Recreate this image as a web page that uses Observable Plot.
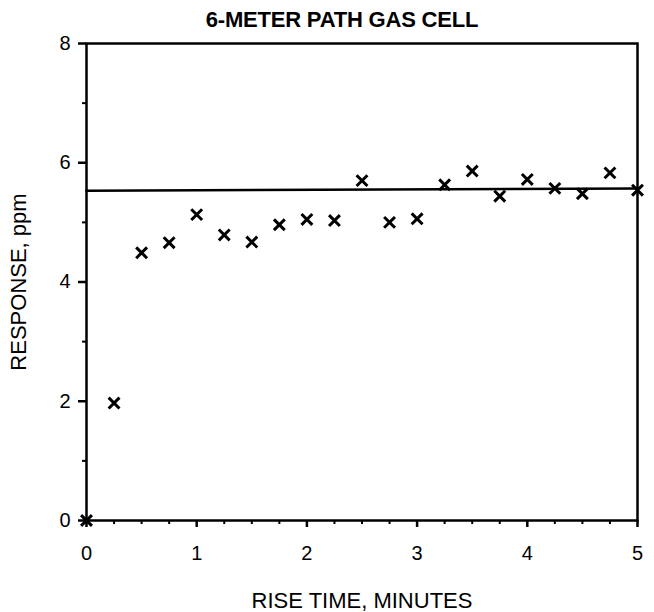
<!DOCTYPE html>
<html>
<head>
<meta charset="utf-8">
<script src="https://cdn.jsdelivr.net/npm/d3@7"></script>
<script src="https://cdn.jsdelivr.net/npm/@observablehq/plot@0.6"></script>
<style>
  html, body { margin: 0; padding: 0; background: #fff; }
  #wrap { position: relative; width: 654px; height: 612px; }
  #title { position: absolute; left: 0; top: 7px; width: 684px; text-align: center;
           font: bold 22px "Liberation Sans", Arial, sans-serif; color: #000; letter-spacing: -0.2px; }
</style>
</head>
<body>
<div id="wrap"><div id="title">6-METER PATH GAS CELL</div></div>
<script>
// Rise time (minutes) and measured response (ppm)
const riseTime = [0, 0.25, 0.5, 0.75, 1.0, 1.25, 1.5, 1.75, 2.0, 2.25, 2.5, 2.75, 3.0, 3.25, 3.5, 3.75, 4.0, 4.25, 4.5, 4.75, 5.0];
const response = [0, 1.97, 4.49, 4.66, 5.13, 4.79, 4.67, 4.96, 5.05, 5.03, 5.70, 5.00, 5.06, 5.63, 5.86, 5.44, 5.72, 5.57, 5.48, 5.83, 5.54];
// Reference (fitted) line
const lineTime = [0, 5];
const lineResponse = [5.53, 5.57];
// Ticks
const xMajorTicks = [0, 1, 2, 3, 4, 5];
const xMinorTicks = [0.25, 0.5, 0.75, 1.25, 1.5, 1.75, 2.25, 2.5, 2.75, 3.25, 3.5, 3.75, 4.25, 4.5, 4.75];
const yMajorTicks = [0, 2, 4, 6, 8];
const yMinorTicks = [1, 3, 5, 7];

const points = riseTime.map((t, i) => ({t, r: response[i]}));
const fit = lineTime.map((t, i) => ({t, r: lineResponse[i]}));

const font = '"Liberation Sans", Arial, sans-serif';
const fmt = d => String(d);

const chart = Plot.plot({
  width: 654,
  height: 612,
  marginLeft: 86,
  marginRight: 17,
  marginTop: 43,
  marginBottom: 92,
  style: {fontFamily: font, fontSize: "20px", background: "white", color: "black", overflow: "visible"},
  x: {domain: [0, 5], label: null},
  y: {domain: [0, 8], label: null},
  marks: [
    Plot.axisX({ticks: xMinorTicks, tickSize: 4, tickFormat: () => "", strokeWidth: 2, label: null}),
    Plot.axisX({ticks: xMajorTicks, tickSize: 7, tickPadding: 18, strokeWidth: 2.5, tickFormat: fmt,
      fontSize: 20, label: null}),
    Plot.axisX({ticks: [], label: "RISE TIME, MINUTES", labelAnchor: "center", labelArrow: "none",
      labelOffset: 87, fontSize: 22}),
    Plot.axisY({ticks: yMinorTicks, tickSize: 4, tickFormat: () => "", strokeWidth: 2, label: null}),
    Plot.axisY({ticks: yMajorTicks, tickSize: 8, tickPadding: 8, strokeWidth: 2.5, tickFormat: fmt,
      fontSize: 20, label: null}),
    Plot.axisY({ticks: [], label: "RESPONSE, ppm", labelAnchor: "center", labelArrow: "none",
      labelOffset: 76, fontSize: 22}),
    Plot.frame({stroke: "black", strokeWidth: 2.5}),
    Plot.line(fit, {x: "t", y: "r", stroke: "black", strokeWidth: 2.5}),
    Plot.dot(points, {x: "t", y: "r", symbol: "times", r: 5, stroke: "black", strokeWidth: 3})
  ]
});
document.getElementById("wrap").appendChild(chart);
</script>
</body>
</html>
